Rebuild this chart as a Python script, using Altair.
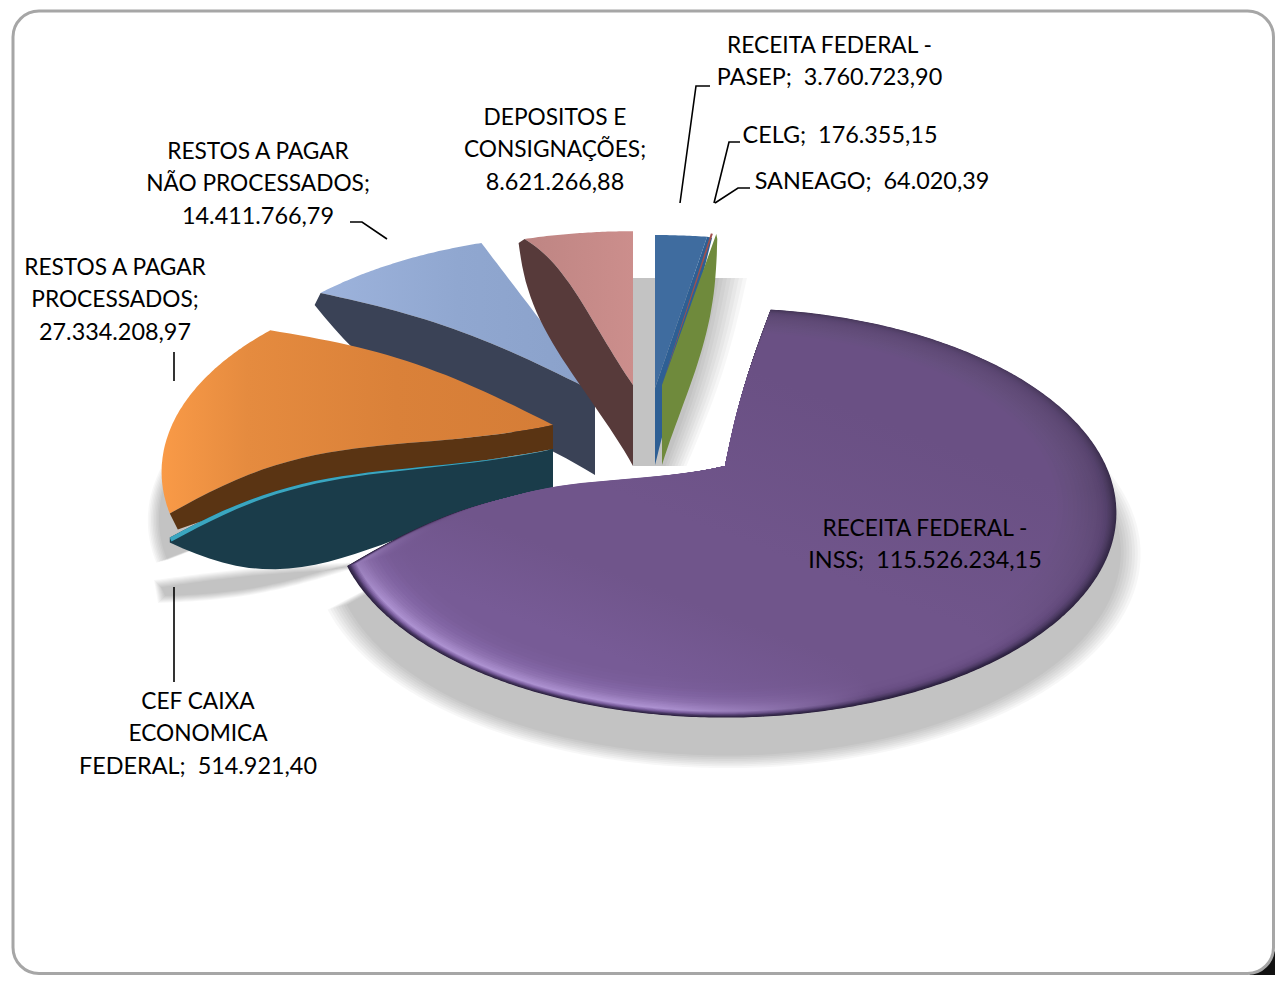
import math
import numpy as np
import pandas as pd
import altair as alt

# ---------- data ----------
NAMES = ["RECEITA FEDERAL - PASEP", "CELG", "SANEAGO", "RECEITA FEDERAL - INSS",
         "CEF CAIXA ECONOMICA FEDERAL", "RESTOS A PAGAR PROCESSADOS",
         "RESTOS A PAGAR NÃO PROCESSADOS", "DEPOSITOS E CONSIGNAÇÕES"]
VALUES = [3760723.90, 176355.15, 64020.39, 115526234.15,
          514921.40, 27334208.97, 14411766.79, 8621266.88]

GAP = "\u00a0 "
LABELS = [
    ["RECEITA FEDERAL -", "PASEP;" + GAP + "3.760.723,90"],
    ["CELG;" + GAP + "176.355,15"],
    ["SANEAGO;" + GAP + "64.020,39"],
    ["RECEITA FEDERAL -", "INSS;" + GAP + "115.526.234,15"],
    ["CEF CAIXA", "ECONOMICA", "FEDERAL;" + GAP + "514.921,40"],
    ["RESTOS A PAGAR", "PROCESSADOS;", "27.334.208,97"],
    ["RESTOS A PAGAR", "NÃO PROCESSADOS;", "14.411.766,79"],
    ["DEPOSITOS E", "CONSIGNAÇÕES;", "8.621.266,88"],
]

# ---------- layout ----------
LABEL_POS = [(829.5, 45.7), (840, 135.7), (872, 181.7), (925, 528.7), (198, 701.5), (115, 267.7), (258, 151.7), (555, 117.7)]
LINE_H = 32.7
LEADERS = [
    [(680, 203), (696, 86), (710, 86)],
    [(714, 203), (729, 142), (740, 142)],
    [(715, 203), (738, 188), (750, 188)],
    [(387, 239), (362, 222), (350, 222)],
    [(174, 352), (174, 381)],
    [(174, 587), (174, 682)],
]
W, H = 1267, 967
FONT = "Lato"
FS_TEXT, FS_DIGITS = 22.7, 23.4

angles = np.concatenate([[0], np.cumsum(VALUES)]) / sum(VALUES) * 360.0
RX, RY, Q = 381, 194, 0.229


def arc_pt(ax, ay, th, r=1.0, rx=RX, ry=RY, q=Q):
    t = math.radians(th)
    den = 1 + q * math.cos(t)
    return ax + r * rx * math.sin(t) / den, ay - r * ry * math.cos(t) / den


def edge(a, b, bow=(0, 0), p=1.0, n=30):
    out = []
    for t in np.linspace(0, 1, n):
        k = math.sin(math.pi * t ** p)
        out.append((a[0] + (b[0] - a[0]) * t + bow[0] * k, a[1] + (b[1] - a[1]) * t + bow[1] * k))
    return out


def corners(i, apex, rot=(0, 0), r=1.0, **kw):
    return (arc_pt(apex[0], apex[1], angles[i] + rot[0], r, **kw),
            arc_pt(apex[0], apex[1], angles[i + 1] + rot[1], r, **kw))


def wedge(i, apex, rot=(0, 0), r=1.0, bow0=(0, 0), bow1=(0, 0), p0=1.0, p1=1.0, **kw):
    a0 = angles[i] + rot[0]
    a1 = angles[i + 1] + rot[1]
    arc = [arc_pt(apex[0], apex[1], a, r, **kw) for a in np.linspace(a0, a1, max(6, int(abs(a1 - a0) * 2)))]
    return edge(apex, arc[0], bow0, p0) + arc + edge(apex, arc[-1], bow1, p1)[::-1]


def lens(top, bottom, tip, top_bow=(0, 0), bot_bow=(0, 0), bot_p=1.0, tip_off=(0, 0), top_p=1.0):
    tip2 = (tip[0] + tip_off[0], tip[1] + tip_off[1])
    return edge(top, tip, top_bow, top_p) + edge(bottom, tip2, bot_bow, bot_p)[::-1] + [bottom]


x_scale = alt.Scale(domain=[8, 8 + W], range=[0, W], nice=False, zero=False)
y_scale = alt.Scale(domain=[8 + H, 8], nice=False, zero=False)
X = alt.X("x:Q", scale=x_scale, axis=None)
Y = alt.Y("y:Q", scale=y_scale, axis=None)


def grad(stops, x1=0.0, y1=0.5, x2=1.0, y2=0.5):
    return alt.Gradient(gradient="linear", x1=x1, y1=y1, x2=x2, y2=y2,
                        stops=[alt.GradientStop(color=c, offset=o) for o, c in stops])


def mix(c0, c1, t):
    a = [int(c0[i:i + 2], 16) for i in (1, 3, 5)]
    b = [int(c1[i:i + 2], 16) for i in (1, 3, 5)]
    return "#" + "".join(f"{round(u + (v - u) * t):02X}" for u, v in zip(a, b))


layers = []


def poly(pts, fill, opacity=1.0):
    df = pd.DataFrame({"x": [round(p[0], 1) for p in pts], "y": [round(p[1], 1) for p in pts], "i": range(len(pts))})
    layers.append(alt.Chart(df).mark_line(interpolate="linear-closed", fill=fill, strokeOpacity=0,
                                          fillOpacity=opacity, clip=True)
                  .encode(x=X, y=Y, order="i:Q"))


# ---------- frame ----------
RIGHT, BOTTOM = 8 + W, 8 + H
frame = pd.DataFrame({"x": [13], "x2": [RIGHT - 1.5], "y": [11], "y2": [BOTTOM - 1.5]})
poly([(RIGHT, BOTTOM - 24), (RIGHT, BOTTOM), (RIGHT - 26, BOTTOM)], "#111111")
layers.append(alt.Chart(frame).mark_rect(fill="white", stroke="#A6A6A6", strokeWidth=3, cornerRadius=26)
              .encode(x=X, x2="x2:Q", y=Y, y2="y2:Q"))

# ---------- slice geometry ----------
A_PASEP = (655, 388)
A_DEP = (633, 385)
A_NP = (595, 392)
A_RP = (553, 425)
A_CEF = (553, 449)
A_INSS = (725, 466)
A_GREEN = (662, 385)

STEPS = [-7, -5, -3, -1, 1, 3, 5, 7]
SH = 0.030
# shadows, blurred with stacked translucent copies
for gr in STEPS:
    poly(wedge(3, (727, 505), rot=(0, -10), r=1.0 + gr * 0.0035, bow1=(0, -24), p1=1.5, rx=RX + 12, ry=RY + 4),
         "#000000", SH)
    poly(wedge(5, (553, 473), rot=(-8, -8), r=1.0 + gr * 0.002, bow0=(0, -20), rx=RX + 8), "#000000", SH)
    t0 = corners(4, A_CEF, rot=(-8, -8))[0]
    poly(lens((350, 566 - gr * 0.5), (350, 566 + gr * 0.5), (t0[0] - 14 - gr * 0.5, t0[1] + 42 - gr * 0.5),
              (0, -3), (0, 8), tip_off=(4, 16 + gr)), "#000000", SH)
    top = A_DEP[1] - 107
    poly([(A_DEP[0], top), (733 + gr * 2, top)] +
         edge((733 + gr * 2, top), (676 + gr * 1.5, 466), (6, 0)) + [(A_DEP[0], 466)], "#000000", SH)

# not-processed slice
poly(wedge(6, A_NP, rot=(-6, -3), bow0=(0, -12)),
     grad([(0, "#9DB3DC"), (0.5, "#90A7D0"), (1, "#8AA1CA")]))
c = corners(6, A_NP, rot=(-6, -3))
poly(lens(A_NP, (A_NP[0], A_NP[1] + 83), c[0], (0, -12), (0, 28), 2.0, tip_off=(-6, 12)), "#3A4256")

# processed slice
poly(wedge(5, A_RP, rot=(-8, -8), bow0=(0, -25), bow1=(0, -15), p0=1.6),
     grad([(0, "#F99A47"), (0.22, "#E58B3F"), (0.6, "#DA8139"), (1, "#D57D37")]))
c = corners(5, A_RP, rot=(-8, -8))
poly(lens(A_RP, (A_RP[0], A_RP[1] + 24), c[0], (0, -25), (0, -12), 1.4, tip_off=(8, 16), top_p=1.6), "#5A3413")

# CEF wall then sliver
c = corners(4, A_CEF, rot=(-8, -8))
poly(lens(A_CEF, (A_CEF[0], A_CEF[1] + 43), c[1], (0, -23), (0, 42), 1.7, tip_off=(0, 5), top_p=1.6), "#1A3C4A")
poly(wedge(4, A_CEF, rot=(-8, -8), bow0=(0, -23), bow1=(0, -23), p0=1.6, p1=1.6), "#3AA6C0")

# deposits
poly(wedge(7, A_DEP, rot=(-2, 0), ry=RY - 5, bow0=(0, -16), p0=1.5),
     grad([(0, "#BE8583"), (1, "#CC8E8C")]))
c = corners(7, A_DEP, rot=(-2, 0), ry=RY - 5)
poly(lens(A_DEP, (A_DEP[0], A_DEP[1] + 81), c[0], (0, -16), (-18, 0), 1.5, tip_off=(-6, 4), top_p=1.5), "#573A3A")

# PASEP, CELG, SANEAGO
poly(wedge(0, A_PASEP, rot=(0, 1.7), ry=RY - 6), "#3F6C9F")
c = corners(0, A_PASEP, rot=(0, 1.7), ry=RY - 6)
poly(lens(A_PASEP, (A_PASEP[0], A_PASEP[1] + 77), c[1], (0, 0), (0, 0), tip_off=(5, 1)), "#2E5F94")
poly(wedge(1, A_GREEN, rot=(1.1, 1.1), ry=RY - 6), "#A0504D")
tg = corners(2, A_GREEN, rot=(0, 1.6), ry=RY - 6)
poly(lens(A_GREEN, (A_GREEN[0], A_GREEN[1] + 80), tg[1], (0, 0), (12, 0), 1.3, tip_off=(1, 5)), "#6F8A3C")

# INSS with bevel rings, interpolated between key rings
keys = [
    (1.000, "#2B1F3E", "#2A1F3B", "#352A47", "#54406A"),
    (0.994, "#44345F", "#35284B", "#3F3152", "#5B4671"),
    (0.986, "#7C5FA0", "#4E3B66", "#4A3A5E", "#5D4873"),
    (0.976, "#AC91D0", "#62497C", "#53406A", "#5F4A76"),
    (0.962, "#A084C3", "#6B5086", "#5A4570", "#614B78"),
    (0.945, "#8F73B1", "#6F548A", "#5E4974", "#634D7B"),
    (0.920, "#8265A4", "#70558B", "#624C79", "#654F7D"),
    (0.890, "#7A5E9A", "#70558B", "#664F7E", "#675181"),
    (0.850, "#775B96", "#70558B", "#6A5084", "#6A5084"),
]
rings = []
for (r0, *a), (r1, *b) in zip(keys[:-1], keys[1:]):
    for t in (0, 1 / 3, 2 / 3):
        rings.append((r0 + (r1 - r0) * t, *[mix(u, v, t) for u, v in zip(a, b)]))
rings.append(keys[-1])
for r, c0, c1, c2, c3 in rings:
    poly(wedge(3, A_INSS, rot=(0, -10), r=r, bow1=(0, -26), p1=1.5, bow0=(-4, 0)),
         grad([(0, c0), (0.14, c0), (0.3, c1), (0.45, c1), (0.78, c2), (1, c3)],
              x1=0.12, y1=1.0, x2=0.85, y2=0.0))

# ---------- leader lines ----------
for n, pts in enumerate(LEADERS):
    df = pd.DataFrame({"x": [p[0] for p in pts], "y": [p[1] for p in pts], "i": range(len(pts))})
    layers.append(alt.Chart(df).mark_line(color="#000000", strokeWidth=1.6).encode(x=X, y=Y, order="i:Q"))

# ---------- labels ----------
rows = []
for lines, (cx, y0) in zip(LABELS, LABEL_POS):
    for j, line in enumerate(lines):
        fs = FS_DIGITS if any(ch.isdigit() for ch in line) else FS_TEXT
        rows.append({"x": cx, "y": y0 + j * LINE_H, "t": line, "fs": fs})
for fs, g in pd.DataFrame(rows).groupby("fs"):
    layers.append(alt.Chart(g).mark_text(font=FONT, fontSize=fs, color="#000000", align="center", baseline="middle")
                  .encode(x=X, y=Y, text="t:N"))

chart = alt.layer(*layers).properties(
    width=W, height=H, padding=0, autosize=alt.AutoSizeParams(type="none"),
    background="white"
).configure_view(stroke=None)

chart.save("out.html", embed_options={"renderer": "svg", "actions": False})
